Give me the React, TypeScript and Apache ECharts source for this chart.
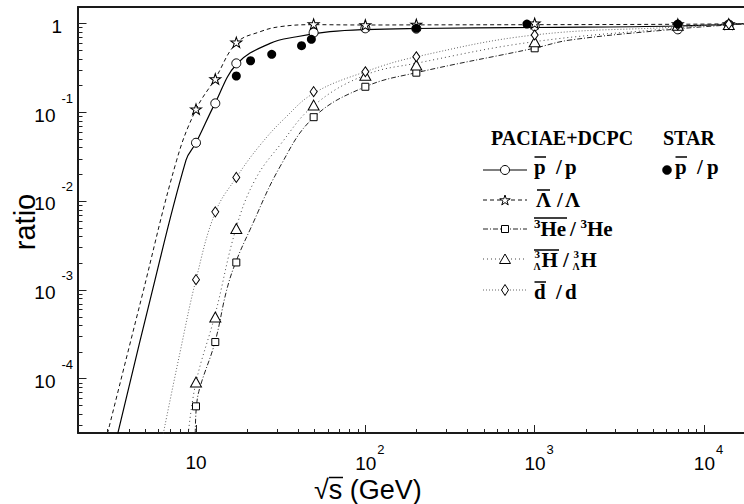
import React, { useEffect, useRef } from 'react';
import * as echarts from 'echarts';

// ---- axis ranges ----
const X_MIN = 2.01;
const X_MAX = 17220;
const Y_MIN = 2.44e-5;
const Y_MAX = 1.526;

// ---- minor tick values ----
const xMinorTicks = [3, 4, 5, 6, 7, 8, 9, 20, 30, 40, 50, 60, 70, 80, 90, 200, 300, 400, 500, 600, 700, 800, 900, 2000, 3000, 4000, 5000, 6000, 7000, 8000, 9000];
const yMinorTicks = [
  3e-5, 4e-5, 5e-5, 6e-5, 7e-5, 8e-5, 9e-5,
  2e-4, 3e-4, 4e-4, 5e-4, 6e-4, 7e-4, 8e-4, 9e-4,
  2e-3, 3e-3, 4e-3, 5e-3, 6e-3, 7e-3, 8e-3, 9e-3,
  0.02, 0.03, 0.04, 0.05, 0.06, 0.07, 0.08, 0.09,
  0.2, 0.3, 0.4, 0.5, 0.6, 0.7, 0.8, 0.9,
];

// ---- PACIAE + DCPC simulation points ----
const simEnergies = [10, 13, 17.3, 49.5, 100, 200, 1000, 7000, 14000];
const simPbarP = [0.0452, 0.1255, 0.354, 0.784, 0.878, 0.87, 0.93, 0.855, 0.97];
const simLambda = [0.108, 0.236, 0.611, 0.98, 0.957, 0.97, 1.0, 0.98, 0.98];
const simHe3 = [4.87e-5, 2.58e-4, 2.03e-3, 0.0877, 0.193, 0.278, 0.523, 0.93, 0.96];
const simHyper = [9.16e-5, 4.94e-4, 4.9e-3, 0.12, 0.26, 0.339, 0.62, 0.95, 0.97];
const simDbar = [1.3e-3, 7.54e-3, 0.0184, 0.17, 0.285, 0.42, 0.738, 0.96, 0.98];

// ---- STAR data ----
const starEnergies = [17.3, 21, 28, 42, 48, 200, 900, 7000];
const starPbarP = [0.255, 0.379, 0.447, 0.56, 0.66, 0.878, 0.98, 0.98];

// ---- curves [sqrt(s), ratio] ----
const curvePbarP: number[][] = [
  [3.45, 2.4e-5], [5.35, 7.6e-4], [8.73, 0.0288], [10, 0.0451], [12.95, 0.1255], [17.4, 0.348],
  [27.4, 0.595], [39.3, 0.706], [61.8, 0.804], [100, 0.851], [200, 0.874], [1000, 0.897],
  [6900, 0.932], [17500, 0.995],
];
const curveLambda: number[][] = [
  [3.0, 2.4e-5], [4.73, 7.6e-4], [7.69, 0.0288], [10, 0.107], [12.95, 0.236], [17.4, 0.604],
  [23.9, 0.804], [31.3, 0.916], [49.1, 0.965], [100, 0.957], [200, 0.96], [1000, 0.965],
  [7000, 0.975], [17500, 0.99],
];
const curveHe3: number[][] = [
  [9.9, 2.4e-5], [10.07, 5.0e-5], [10.56, 8.0e-5], [12.95, 2.58e-4], [15.17, 9.9e-4], [17.2, 2.06e-3],
  [20.8, 4.7e-3], [31.3, 0.0242], [49.8, 0.088], [100, 0.193], [200, 0.278], [990, 0.523],
  [1618, 0.648], [6930, 0.863], [13870, 0.957], [17500, 0.98],
];
const curveHyper: number[][] = [
  [9.0, 2.4e-5], [10, 9.1e-5], [12.95, 5.2e-4], [17.23, 4.9e-3], [22.3, 0.0172], [31.3, 0.0425],
  [49.8, 0.1195], [100, 0.2615], [200, 0.355], [990, 0.62], [6930, 0.885], [13870, 0.982],
  [17500, 0.99],
];
const curveDbar: number[][] = [
  [6.41, 2.4e-5], [8.05, 1.98e-4], [10, 1.3e-3], [13.04, 7.54e-3], [17.35, 0.0185], [23.9, 0.0425],
  [33.5, 0.0857], [49.8, 0.164], [100, 0.285], [200, 0.42], [990, 0.738], [6930, 0.908],
  [13870, 0.982], [17500, 0.99],
];

const FONT_SANS = '"Liberation Sans", Arial, Helvetica, sans-serif';
const FONT_SERIF = '"Liberation Serif", "Times New Roman", serif';

const STAR_PTS = [[0, -10], [2.245, -3.09], [9.51, -3.09], [3.633, 1.18], [5.88, 8.09], [0, 3.82], [-5.88, 8.09], [-3.633, 1.18], [-9.51, -3.09], [-2.245, -3.09]];
const STAR_PATH = 'path://M' + STAR_PTS.map((p) => p[0] + ',' + p[1]).join('L') + 'Z';

const LS_PBAR = { color: '#000', width: 1.2, type: 'solid' as any };
const LS_LAMBDA = { color: '#111', width: 1, type: [4, 3] as any };
const LS_HE3 = { color: '#222', width: 1, type: [5, 2, 1, 2] as any };
const LS_HYPER = { color: '#444', width: 1, type: [1, 3] as any };
const LS_DBAR = { color: '#666', width: 1, type: [1, 2] as any };

function logExp(v: number): number | null {
  const l = Math.log10(v);
  const e = Math.round(l);
  if (Math.abs(l - e) > 1e-6) return null;
  return e;
}

function buildLegend(): any[] {
  const els: any[] = [];
  const X0 = 483, X1 = 527, MX = 505;
  const rows = [170, 200, 229, 259, 290];
  const styles = [LS_PBAR, LS_LAMBDA, LS_HE3, LS_HYPER, LS_DBAR];
  const Z = 100;
  const txt = (text: string, x: number, y: number, size: number) => ({
    type: 'text', x, y, z: Z,
    style: {
      text, fill: '#000', font: `bold ${size}px ${FONT_SERIF}`,
      align: 'left', verticalAlign: 'middle', textAlign: 'left', textVerticalAlign: 'middle',
    },
  });
  const bar = (x1: number, x2: number, y: number) => ({
    type: 'line', z: Z, shape: { x1, y1: y, x2, y2: y }, style: { stroke: '#000', lineWidth: 1.5 },
  });
  // headers
  els.push(txt('PACIAE+DCPC', 491, 138, 20));
  els.push(txt('STAR', 663, 138, 20));
  // lines
  rows.forEach((y, i) => {
    const s = styles[i];
    els.push({
      type: 'line', z: Z, shape: { x1: X0, y1: y, x2: X1, y2: y },
      style: { stroke: s.color, lineWidth: s.width, lineDash: Array.isArray(s.type) ? s.type : null },
    });
  });
  const mk = { fill: '#fff', stroke: '#000', lineWidth: 1 };
  els.push({ type: 'circle', z: Z + 1, shape: { cx: MX, cy: rows[0], r: 4.5 }, style: mk });
  els.push({ type: 'polygon', z: Z + 1, shape: { points: STAR_PTS.map((p) => [MX + p[0] * 0.55, rows[1] + 0.5 + p[1] * 0.55]) }, style: mk });
  els.push({ type: 'rect', z: Z + 1, shape: { x: MX - 3.5, y: rows[2] - 3.5, width: 7, height: 7 }, style: mk });
  els.push({ type: 'polygon', z: Z + 1, shape: { points: [[MX, rows[3] - 5], [MX + 5.5, rows[3] + 4.5], [MX - 5.5, rows[3] + 4.5]] }, style: mk });
  els.push({ type: 'polygon', z: Z + 1, shape: { points: [[MX, rows[4] - 5.5], [MX + 3.5, rows[4]], [MX, rows[4] + 5.5], [MX - 3.5, rows[4]]] }, style: mk });
  // row 1: pbar / p
  els.push(txt('p', 534, 167, 21), txt('/', 556, 167, 21), txt('p', 565, 167, 21), bar(534.5, 546, 157));
  // row 2: Lambda-bar / Lambda
  els.push(txt('Λ', 536, 199.5, 21), txt('/', 557, 199.5, 21), txt('Λ', 565, 199.5, 21), bar(537, 550, 190));
  // row 3: 3He-bar / 3He
  els.push(txt('3', 534, 223, 13), txt('He', 540.5, 229, 21), txt('/', 570, 229, 21), txt('3', 580.5, 223, 13), txt('He', 587, 229, 21), bar(534, 567, 218));
  // row 4: hypertriton
  els.push(
    txt('3', 534.5, 254, 11), txt('Λ', 533.5, 266.5, 10), txt('H', 541.5, 259.6, 21),
    txt('/', 563, 259.6, 21),
    txt('3', 573.5, 254, 11), txt('Λ', 572.5, 266.5, 10), txt('H', 580.5, 259.6, 21),
    bar(534, 559, 250),
  );
  // row 5: dbar / d
  els.push(txt('d', 534, 292, 21), txt('/', 556, 292, 21), txt('d', 565, 292, 21), bar(534.5, 546, 282));
  // STAR entry
  els.push({ type: 'circle', z: Z + 1, shape: { cx: 667, cy: rows[0], r: 4.5 }, style: { fill: '#000', stroke: '#000', lineWidth: 0.5 } });
  els.push(txt('p', 675, 167, 21), txt('/', 697, 167, 21), txt('p', 707, 167, 21), bar(675.5, 687, 157));
  return els;
}

function buildOption(): any {
  const axisLineStyle = { color: '#1a1a1a', width: 2 };
  const curve = (data: number[][], ls: any) => ({
    type: 'line', data, showSymbol: false, smooth: 0.4,
    lineStyle: ls, z: 2, silent: true, clip: true,
  });
  const markers = (ys: number[], symbol: string, size: any) => ({
    type: 'scatter', data: simEnergies.map((e, i) => [e, ys[i]]), symbol, symbolSize: size,
    itemStyle: { color: '#fff', borderColor: '#000', borderWidth: 1, opacity: 1 }, z: 3, silent: true,
  });
  const tickSeries = (data: number[][], dir: 'x' | 'y') => ({
    type: 'custom', silent: true, z: 10, clip: false,
    encode: { x: 0, y: 1 },
    data,
    renderItem: (_p: any, api: any) => {
      const c = api.coord([api.value(0), api.value(1)]);
      if (dir === 'x') {
        const x = Math.round(c[0]) + 0.5;
        return { type: 'line', shape: { x1: x, y1: c[1], x2: x, y2: c[1] - 4 }, style: { stroke: '#222', lineWidth: 1 } };
      }
      const y = Math.round(c[1]) + 0.5;
      return { type: 'line', shape: { x1: c[0], y1: y, x2: c[0] + 4.5, y2: y }, style: { stroke: '#222', lineWidth: 1 } };
    },
  });

  return {
    animation: false,
    backgroundColor: '#fff',
    textStyle: { fontFamily: FONT_SANS },
    grid: { left: 78, right: 0, top: 7, bottom: 71, containLabel: false, outerBoundsMode: 'none' },
    xAxis: [
      {
        type: 'log', logBase: 10, min: X_MIN, max: X_MAX, position: 'bottom',
        axisLine: { show: true, lineStyle: axisLineStyle },
        axisTick: { show: true, inside: true, length: 8, lineStyle: { color: '#222', width: 1 } },
        minorTick: { show: false }, splitLine: { show: false },
        axisLabel: {
          margin: 16, showMinLabel: false, showMaxLabel: false, color: '#000',
          formatter: (v: number) => {
            const e = logExp(v);
            if (e === null) return '';
            return e === 1 ? '{b|10}' : `{bp|10}{sup|${e}}`;
          },
          rich: {
            b: { fontSize: 19, fontFamily: FONT_SANS, color: '#000', lineHeight: 12, padding: [15, 0, 0, 0] },
            bp: { fontSize: 19, fontFamily: FONT_SANS, color: '#000', lineHeight: 12, padding: [15, 0, 0, 9] },
            sup: { fontSize: 13, fontFamily: FONT_SANS, color: '#000', lineHeight: 14, padding: [0, 0, 13, 1] },
          },
        },
      },
      {
        type: 'log', logBase: 10, min: X_MIN, max: X_MAX, position: 'top',
        axisLine: { show: true, lineStyle: axisLineStyle },
        axisTick: { show: false }, axisLabel: { show: false }, splitLine: { show: false },
      },
    ],
    yAxis: {
      type: 'log', logBase: 10, min: Y_MIN, max: Y_MAX,
      axisLine: { show: true, lineStyle: axisLineStyle },
      axisTick: { show: true, inside: true, length: 8.5, lineStyle: { color: '#222', width: 1 } },
      minorTick: { show: false }, splitLine: { show: false },
      axisLabel: {
        margin: 5, showMinLabel: false, showMaxLabel: false, color: '#000',
        formatter: (v: number) => {
          const e = logExp(v);
          if (e === null) return '';
          return e === 0 ? '{one|1}' : `{b|10}{sup|${e}}`;
        },
        rich: {
          b: { fontSize: 19, fontFamily: FONT_SANS, color: '#000', lineHeight: 20, padding: [14, 0, 8, 0] },
          one: { fontSize: 19, fontFamily: FONT_SANS, color: '#000', lineHeight: 20, padding: [14, 11, 8, 0] },
          sup: { fontSize: 13, fontFamily: FONT_SANS, color: '#000', lineHeight: 14, padding: [0, 0, 28, 6] },
        },
      },
    },
    series: [
      curve(curvePbarP, LS_PBAR),
      curve(curveLambda, LS_LAMBDA),
      curve(curveHe3, LS_HE3),
      curve(curveHyper, LS_HYPER),
      curve(curveDbar, LS_DBAR),
      markers(simPbarP, 'circle', 9),
      markers(simLambda, STAR_PATH, [11, 10.5]),
      markers(simHe3, 'rect', 7),
      markers(simHyper, 'triangle', [11, 10]),
      markers(simDbar, 'diamond', [7, 10]),
      {
        type: 'scatter', data: starEnergies.map((e, i) => [e, starPbarP[i]]), symbol: 'circle', symbolSize: 9,
        itemStyle: { color: '#000', opacity: 1 }, z: 4, silent: true,
      },
      tickSeries(xMinorTicks.map((v) => [v, Y_MIN]), 'x'),
      tickSeries(yMinorTicks.map((v) => [X_MIN, v]), 'y'),
    ],
    graphic: [
      {
        type: 'text', x: 25, y: 222, rotation: Math.PI / 2, z: 100,
        style: { text: 'ratio', fill: '#000', font: `29px ${FONT_SANS}`, align: 'center', verticalAlign: 'middle', textAlign: 'center', textVerticalAlign: 'middle' },
      },
      {
        type: 'text', x: 314, y: 490, z: 100,
        style: { text: '√s (GeV)', fill: '#000', font: `27px ${FONT_SANS}`, align: 'left', verticalAlign: 'middle', textAlign: 'left', textVerticalAlign: 'middle' },
      },
      {
        type: 'line', z: 100, shape: { x1: 329, y1: 477.5, x2: 343, y2: 477.5 }, style: { stroke: '#000', lineWidth: 1.5 },
      },
      ...buildLegend(),
    ],
  };
}

export default function App() {
  const ref = useRef<HTMLDivElement>(null);
  useEffect(() => {
    if (!ref.current) return;
    const chart = echarts.init(ref.current, null, { renderer: 'svg' });
    chart.setOption(buildOption());
    return () => chart.dispose();
  }, []);
  return <div ref={ref} style={{ position: 'absolute', left: 0, top: 0, width: 744, height: 504, background: '#fff' }} />;
}
